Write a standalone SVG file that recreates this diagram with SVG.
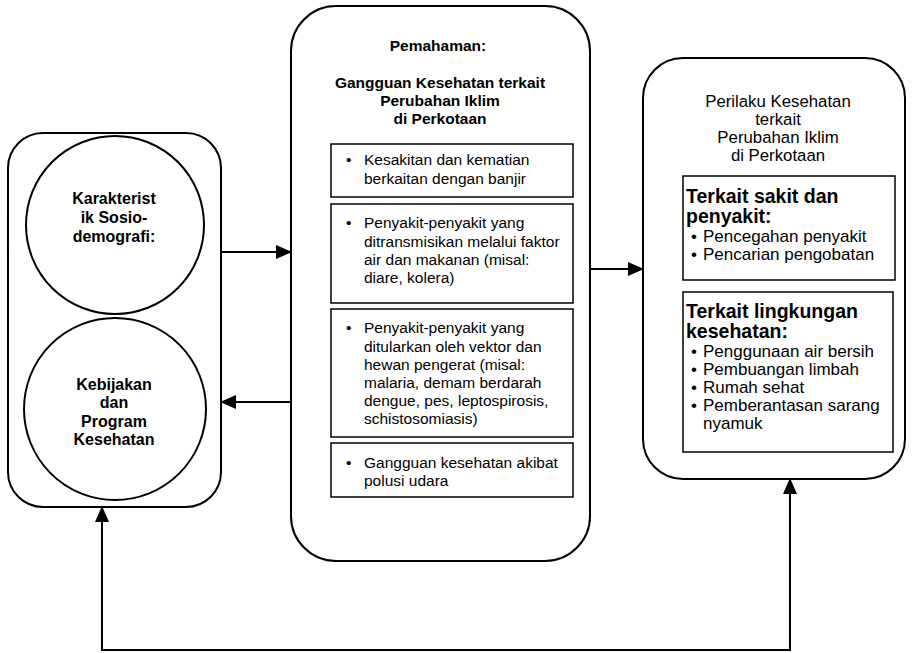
<svg xmlns="http://www.w3.org/2000/svg" width="915" height="653" viewBox="0 0 915 653">
<defs>
<style>
.box{fill:#fff;stroke:#000;stroke-width:2}
.sub{fill:#fff;stroke:#000;stroke-width:1.5}
.t{font-family:"Liberation Sans",Arial,sans-serif;fill:#000}
.b{font-weight:bold}
.c{text-anchor:middle}
.body{font-size:15.5px}
.ttl{font-size:15.5px}
.circ{font-size:16px}
.rt{font-size:16.8px}
.hd{font-size:19.5px}
.it{font-size:17px}
.line{fill:none;stroke:#000;stroke-width:2}
</style>
<marker id="ah" markerWidth="16" markerHeight="14" refX="15" refY="7" orient="auto" markerUnits="userSpaceOnUse">
<path d="M0,0 L16,7 L0,14 Z" fill="#000"/>
</marker>
</defs>
<rect width="915" height="653" fill="#fff"/>

<g id="left-box">
<rect class="box" x="8" y="133" width="213" height="374" rx="35"/>
</g>
<g id="karakteristik">
<circle class="box" cx="115" cy="225" r="89"/>
<text class="t b c circ" x="114" y="204">Karakterist</text>
<text class="t b c circ" x="114" y="223">ik Sosio-</text>
<text class="t b c circ" x="114" y="242">demografi:</text>
</g>
<g id="kebijakan">
<circle class="box" cx="115" cy="409" r="91"/>
<text class="t b c circ" x="114" y="390">Kebijakan</text>
<text class="t b c circ" x="114" y="408">dan</text>
<text class="t b c circ" x="114" y="427">Program</text>
<text class="t b c circ" x="114" y="445">Kesehatan</text>
</g>

<g id="pemahaman">
<rect class="box" x="291" y="6" width="299" height="555" rx="45"/>
<text class="t b c ttl" x="438" y="51">Pemahaman:</text>
<text class="t b c ttl" x="440" y="88">Gangguan Kesehatan terkait</text>
<text class="t b c ttl" x="440" y="106">Perubahan Iklim</text>
<text class="t b c ttl" x="440" y="124">di Perkotaan</text>
</g>
<g id="item-banjir">
<rect class="sub" x="331" y="144" width="242" height="53"/>
<text class="t body" x="346" y="165">•</text>
<text class="t body" x="364" y="165">Kesakitan dan kematian</text>
<text class="t body" x="364" y="184">berkaitan dengan banjir</text>
</g>
<g id="item-air">
<rect class="sub" x="331" y="204" width="242" height="99"/>
<text class="t body" x="346" y="228">•</text>
<text class="t body" x="364" y="228">Penyakit-penyakit yang</text>
<text class="t body" x="364" y="247">ditransmisikan melalui faktor</text>
<text class="t body" x="364" y="265">air dan makanan (misal:</text>
<text class="t body" x="364" y="283">diare, kolera)</text>
</g>
<g id="item-vektor">
<rect class="sub" x="331" y="309" width="242" height="128"/>
<text class="t body" x="346" y="333">•</text>
<text class="t body" x="364" y="333">Penyakit-penyakit yang</text>
<text class="t body" x="364" y="352">ditularkan oleh vektor dan</text>
<text class="t body" x="364" y="370">hewan pengerat (misal:</text>
<text class="t body" x="364" y="388">malaria, demam berdarah</text>
<text class="t body" x="364" y="406">dengue, pes, leptospirosis,</text>
<text class="t body" x="364" y="424">schistosomiasis)</text>
</g>
<g id="item-polusi">
<rect class="sub" x="331" y="443" width="242" height="54"/>
<text class="t body" x="346" y="468">•</text>
<text class="t body" x="364" y="468">Gangguan kesehatan akibat</text>
<text class="t body" x="364" y="486">polusi udara</text>
</g>

<g id="perilaku">
<rect class="box" x="643" y="58" width="262" height="421" rx="40"/>
<text class="t c rt" x="778" y="107">Perilaku Kesehatan</text>
<text class="t c rt" x="778" y="125">terkait</text>
<text class="t c rt" x="778" y="143">Perubahan Iklim</text>
<text class="t c rt" x="778" y="161">di Perkotaan</text>
</g>
<g id="sakit">
<rect class="sub" x="683" y="176" width="212" height="104"/>
<text class="t b hd" x="686" y="203">Terkait sakit dan</text>
<text class="t b hd" x="686" y="223">penyakit:</text>
<text class="t it" x="691" y="242">•</text>
<text class="t it" x="703" y="242">Pencegahan penyakit</text>
<text class="t it" x="691" y="260">•</text>
<text class="t it" x="703" y="260">Pencarian pengobatan</text>
</g>
<g id="lingkungan">
<rect class="sub" x="683" y="292" width="210" height="160"/>
<text class="t b hd" x="686" y="318">Terkait lingkungan</text>
<text class="t b hd" x="686" y="338">kesehatan:</text>
<text class="t it" x="691" y="357">•</text>
<text class="t it" x="703" y="357">Penggunaan air bersih</text>
<text class="t it" x="691" y="375">•</text>
<text class="t it" x="703" y="375">Pembuangan limbah</text>
<text class="t it" x="691" y="393">•</text>
<text class="t it" x="703" y="393">Rumah sehat</text>
<text class="t it" x="691" y="411">•</text>
<text class="t it" x="703" y="411">Pemberantasan sarang</text>
<text class="t it" x="703" y="429">nyamuk</text>
</g>

<g id="connectors">
<line class="line" x1="221" y1="252" x2="291" y2="252" marker-end="url(#ah)"/>
<line class="line" x1="291" y1="402" x2="221" y2="402" marker-end="url(#ah)"/>
<line class="line" x1="590" y1="269" x2="643" y2="269" marker-end="url(#ah)"/>
<polyline class="line" points="790,650 102,650 102,507" marker-end="url(#ah)"/>
<line class="line" x1="790" y1="651" x2="790" y2="479" marker-end="url(#ah)"/>
</g>
</svg>
